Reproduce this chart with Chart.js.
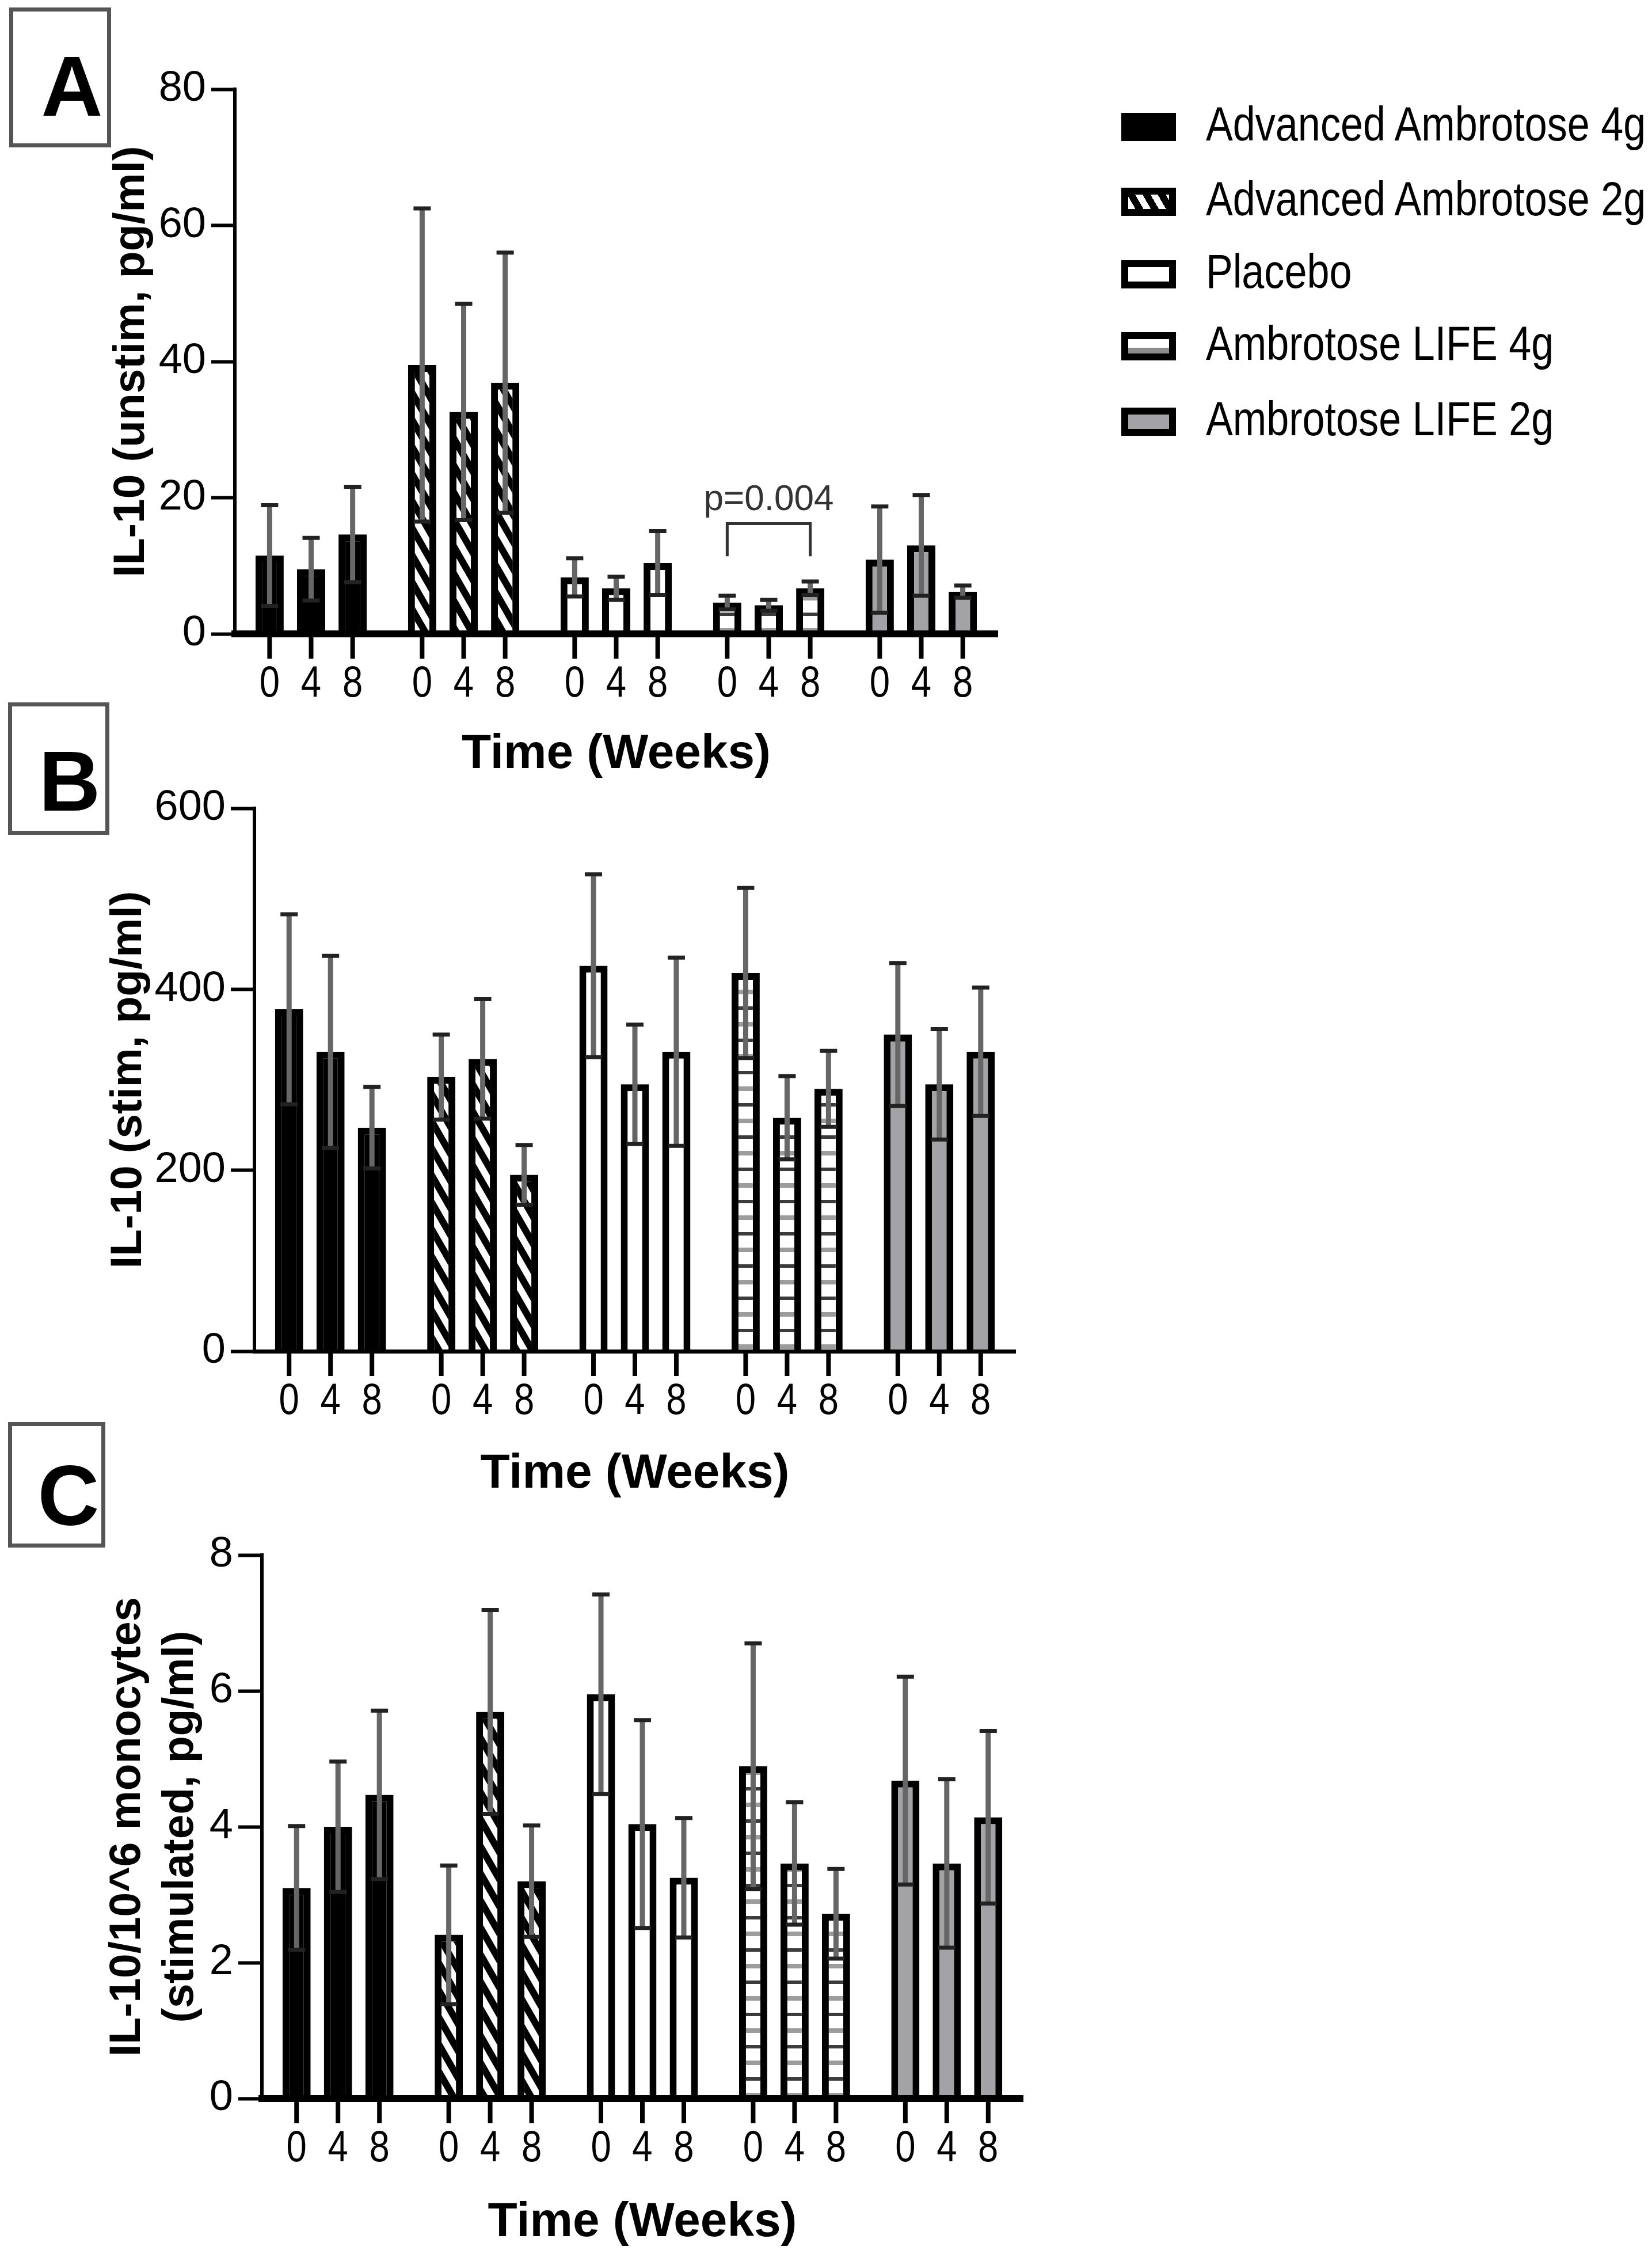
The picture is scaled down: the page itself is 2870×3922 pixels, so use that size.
<!DOCTYPE html>
<html>
<head>
<meta charset="utf-8">
<script src="https://cdn.jsdelivr.net/npm/chart.js@4.4.1/dist/chart.umd.min.js"></script>
<style>
html,body{margin:0;padding:0;background:#fff;}
#page{position:relative;width:2870px;height:3922px;overflow:hidden;background:#fff;}
canvas{position:absolute;left:0;}
.box{position:absolute;box-sizing:border-box;border:7px solid #555;background:#fff;}
.letter{position:absolute;font-family:"Liberation Sans",Arial,sans-serif;font-weight:bold;font-size:148px;line-height:1;transform:translate(-50%,-50%);color:#000;}
.sw{position:absolute;box-sizing:border-box;width:95px;height:49px;border:12px solid #000;left:1948px;}
.lt{position:absolute;white-space:nowrap;color:#000;line-height:1;left:2095px;font-family:"Liberation Sans",Arial,sans-serif;transform-origin:0 50%;}
</style>
</head>
<body>
<div id="page">
  <div class="box" style="left:16px;top:13px;width:177px;height:243px;"></div>
  <div class="letter" style="left:125px;top:150px;">A</div>
  <div class="box" style="left:14px;top:1220px;width:176px;height:230px;"></div>
  <div class="letter" style="left:121px;top:1357px;">B</div>
  <div class="box" style="left:14px;top:2470px;width:169px;height:218px;"></div>
  <div class="letter" style="left:119px;top:2598px;">C</div>
  <div id="legend"></div>
  <canvas id="cA"></canvas>
  <canvas id="cB"></canvas>
  <canvas id="cC"></canvas>
</div>
<script>
// ---------------- DATA ----------------
const treatments = ['Advanced Ambrotose 4g','Advanced Ambrotose 2g','Placebo','Ambrotose LIFE 4g','Ambrotose LIFE 2g'];
const weeks = ['0','4','8'];
const xTitle = 'Time (Weeks)';

// Panel A: IL-10 unstimulated (mean, SD) per treatment, per week
const aWeek0 = [11.5, 39.5, 8.3, 4.6, 10.9];
const aWeek4 = [9.5, 32.6, 6.7, 4.2, 13.0];
const aWeek8 = [14.6, 36.9, 10.4, 6.7, 6.2];
const aSd0 = [7.4, 23.0, 2.8, 1.0, 7.8];
const aSd4 = [4.6, 15.9, 1.7, 0.8, 7.4];
const aSd8 = [7.0, 19.1, 4.7, 1.0, 0.9];
const aTicks = [0, 20, 40, 60, 80];
const aTitle = 'IL-10 (unstim, pg/ml)';

// Panel B: IL-10 stimulated
const bWeek0 = [378, 303, 426, 418, 350];
const bWeek4 = [331, 323, 295, 258, 295];
const bWeek8 = [247, 195, 331, 290, 331];
const bSd0 = [105, 47, 101, 94, 79];
const bSd4 = [106, 66, 66, 46, 61];
const bSd8 = [45, 33, 104, 42, 71];
const bTicks = [0, 200, 400, 600];
const bTitle = 'IL-10 (stim, pg/ml)';

// Panel C: IL-10 per 10^6 monocytes
const cWeek0 = [3.10, 2.41, 5.95, 4.89, 4.68];
const cWeek4 = [4.00, 5.69, 4.04, 3.46, 3.46];
const cWeek8 = [4.47, 3.20, 3.25, 2.72, 4.14];
const cSd0 = [0.91, 1.02, 1.47, 1.81, 1.53];
const cSd4 = [0.96, 1.50, 1.53, 0.90, 1.24];
const cSd8 = [1.24, 0.82, 0.88, 0.66, 1.27];
const cTicks = [0, 2, 4, 6, 8];
const cTitle = ['IL-10/10^6 monocytes', '(stimulated, pg/ml)'];

// Significance annotation in panel A (Ambrotose LIFE 4g, week 0 vs week 8)
const pLabel = 'p=0.004';
const pGroupIndex = 3;
const pBracketTop = 16.2;
const pBracketLeg = 11.4;
const pLabelLevel = 19.6;

// ---------------- FONTS ----------------
const SANS = '"Liberation Sans", Arial, sans-serif';
const mc=document.createElement('canvas').getContext('2d');
function mw(font,text){mc.font=font;return mc.measureText(text).width;}
const NARROW_X = 0.835;           // horizontal compression imitating a narrow face
const legendSize = 84;
const tickSize = 74;
const xLabSize = 76;
const timeSize = 100*537/mw('bold 100px '+SANS, xTitle);
const yTitleSize = 100*749/mw('bold 100px '+SANS, aTitle);
const pSize = 100*226/mw('100px '+SANS, pLabel);

// ---------------- LEGEND (HTML) ----------------
const swatchCss = [
  'background:#000;',
  'background:repeating-linear-gradient(60deg,#fff 0 11px,#000 11px 23px);',
  'background:#fff;',
  'background:linear-gradient(#fff 0 58%,#8c8c8c 58% 100%);',
  'background:#a3a3a7;'
];
const legendTops = [196, 326, 452, 577, 708];
const leg=document.getElementById('legend');
treatments.forEach((t,i)=>{
  const s=document.createElement('div'); s.className='sw'; s.style.cssText+='top:'+legendTops[i]+'px;'+swatchCss[i]; leg.appendChild(s);
  const d=document.createElement('div'); d.className='lt'; d.textContent=t;
  d.style.fontSize=legendSize+'px';
  d.style.transform='scaleX('+NARROW_X+')';
  const capCenter=legendTops[i]+24.5-6;
  d.style.top=(capCenter-0.4885*legendSize)+'px';
  leg.appendChild(d);
});

// ---------------- PATTERNS ----------------
function hatch(ctx){
  const c=document.createElement('canvas'); c.width=27; c.height=47;
  const x=c.getContext('2d'); x.fillStyle='#fff'; x.fillRect(0,0,27,47);
  x.strokeStyle='#000'; x.lineWidth=12;
  for(const dx of [-54,-27,0,27,54]){x.beginPath();x.moveTo(dx-27,-47);x.lineTo(dx+54,94);x.stroke();}
  return ctx.createPattern(c,'repeat');
}
function stripes(ctx){
  const c=document.createElement('canvas'); c.width=8; c.height=56;
  const x=c.getContext('2d'); x.fillStyle='#fff'; x.fillRect(0,0,8,56);
  x.fillStyle='#3c3c3c'; x.fillRect(0,0,8,6);
  x.fillStyle='#9c9c9c'; x.fillRect(0,27,8,8);
  return ctx.createPattern(c,'repeat');
}

// ---------------- PLUGINS ----------------
const errorBarPlugin={
  id:'errorBars',
  afterDatasetsDraw(chart){
    const {ctx}=chart; const y=chart.scales.y;
    ctx.save();
    chart.data.datasets.forEach((ds,di)=>{
      chart.getDatasetMeta(di).data.forEach((bar,i)=>{
        const v=ds.data[i], e=ds.errors[i];
        const yt=y.getPixelForValue(v+e), yb=y.getPixelForValue(Math.max(v-e,y.min));
        ctx.strokeStyle='#666'; ctx.lineWidth=9; ctx.lineCap='butt';
        ctx.beginPath(); ctx.moveTo(bar.x,yb); ctx.lineTo(bar.x,yt); ctx.stroke();
        ctx.strokeStyle='#222'; ctx.lineWidth=7;
        ctx.beginPath(); ctx.moveTo(bar.x-15,yt); ctx.lineTo(bar.x+15,yt);
        ctx.moveTo(bar.x-15,yb); ctx.lineTo(bar.x+15,yb); ctx.stroke();
      });
    });
    ctx.restore();
  }
};
const xLabelPlugin={
  id:'xLabels',
  afterDraw(chart){
    const {ctx,chartArea}=chart;
    ctx.save(); ctx.fillStyle='#000'; ctx.strokeStyle='#000';
    chart.data.datasets.forEach((ds,di)=>{
      chart.getDatasetMeta(di).data.forEach(bar=>{
        ctx.lineWidth=8; ctx.beginPath(); ctx.moveTo(bar.x,chartArea.bottom); ctx.lineTo(bar.x,chartArea.bottom+43); ctx.stroke();
        ctx.save();
        ctx.translate(bar.x, chartArea.bottom+88);
        ctx.scale(NARROW_X,1);
        ctx.font=xLabSize+'px '+SANS; ctx.textAlign='center'; ctx.textBaseline='middle';
        ctx.fillText(ds.label,0,0);
        ctx.restore();
      });
    });
    ctx.restore();
  }
};
const bracketPlugin={
  id:'bracket',
  afterDatasetsDraw(chart,args,opts){
    if(!opts || !opts.show) return;
    const {ctx}=chart; const y=chart.scales.y;
    const x1=chart.getDatasetMeta(0).data[pGroupIndex].x;
    const x2=chart.getDatasetMeta(2).data[pGroupIndex].x;
    const yt=y.getPixelForValue(pBracketTop), yl=y.getPixelForValue(pBracketLeg), yp=y.getPixelForValue(pLabelLevel);
    ctx.save(); ctx.strokeStyle='#333'; ctx.lineWidth=5;
    ctx.beginPath(); ctx.moveTo(x1,yl); ctx.lineTo(x1,yt); ctx.lineTo(x2,yt); ctx.lineTo(x2,yl); ctx.stroke();
    ctx.fillStyle='#333'; ctx.font=pSize+'px '+SANS; ctx.textAlign='center'; ctx.textBaseline='middle';
    ctx.fillText(pLabel,(x1+x2)/2,yp);
    ctx.restore();
  }
};

// ---------------- CHARTS ----------------
const XH = 277;
function makePanel(p){
  const cv=document.getElementById(p.id);
  cv.width=p.w; cv.height=p.h; cv.style.top=p.top+'px';
  cv.style.width=p.w+'px'; cv.style.height=p.h+'px';
  const ctx=cv.getContext('2d');
  const fills=['#000000', hatch(ctx), '#ffffff', stripes(ctx), '#a3a3a7'];
  const datasets=weeks.map((wk,i)=>({
    label:wk, data:p.means[i], errors:p.sds[i],
    backgroundColor:fills, hoverBackgroundColor:fills, borderColor:'#000', hoverBorderColor:'#000',
    borderWidth:12, categoryPercentage:0.8166, barPercentage:0.68
  }));
  const yLHpx = yTitleSize*p.yLH;
  new Chart(ctx,{
    type:'bar',
    data:{labels:treatments, datasets},
    options:{
      responsive:false, animation:false, devicePixelRatio:1, events:[],
      layout:{padding:{left:0, top:p.area.top, right:p.w-p.area.right, bottom:p.h-p.area.bottom-XH}},
      plugins:{legend:{display:false}, tooltip:{enabled:false}, bracket:{show:!!p.bracket}},
      scales:{
        x:{
          type:'category', offset:true,
          grid:{display:false}, ticks:{display:false},
          border:{display:true, width:p.xBorder, color:'#000', z:1},
          title:{display:true, text:xTitle, color:'#000',
                 font:{family:SANS, weight:'bold', size:timeSize, lineHeight:1},
                 padding:{top:0, bottom:XH-p.titleDy-timeSize/2}},
          afterFit:s=>{s.height=XH;}
        },
        y:{
          min:p.ticks[0], max:p.ticks[p.ticks.length-1],
          ticks:{stepSize:p.ticks[1]-p.ticks[0], color:'#000', font:{family:SANS, size:tickSize}, padding:9},
          grid:{display:true, drawOnChartArea:false, drawTicks:true, tickLength:41, tickWidth:6, tickColor:'#000'},
          border:{display:true, width:6, color:'#000', z:1},
          title:{display:true, text:p.yTitle, color:'#000',
                 font:{family:SANS, weight:'bold', size:yTitleSize, lineHeight:p.yLH},
                 padding:{top:p.yTitleX-yLHpx/2, bottom:0}},
          afterFit:s=>{s.width=p.area.left;}
        }
      }
    },
    plugins:[errorBarPlugin, xLabelPlugin, bracketPlugin]
  });
}

makePanel({id:'cA', top:0, w:1850, h:1420, area:{left:408,right:1733,top:155,bottom:1101},
  means:[aWeek0,aWeek4,aWeek8], sds:[aSd0,aSd4,aSd8], ticks:aTicks, yTitle:aTitle,
  yTitleX:229, yLH:1.2, xBorder:12, titleDy:210, bracket:true});
makePanel({id:'cB', top:1300, w:1850, h:1400, area:{left:442,right:1764,top:104,bottom:1047},
  means:[bWeek0,bWeek4,bWeek8], sds:[bSd0,bSd4,bSd8], ticks:bTicks, yTitle:bTitle,
  yTitleX:224, yLH:1.2, xBorder:7, titleDy:214, bracket:false});
makePanel({id:'cC', top:2600, w:1850, h:1322, area:{left:455,right:1777,top:101,bottom:1045},
  means:[cWeek0,cWeek4,cWeek8], sds:[cSd0,cSd4,cSd8], ticks:cTicks, yTitle:cTitle,
  yTitleX:222, yLH:92/yTitleSize, xBorder:12, titleDy:216, bracket:false});
</script>
</body>
</html>
